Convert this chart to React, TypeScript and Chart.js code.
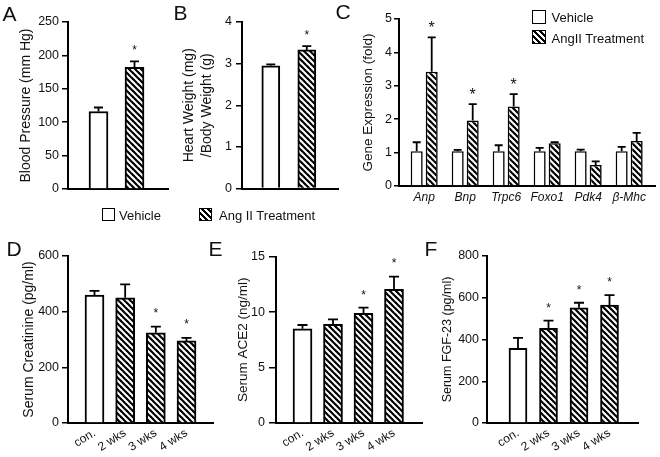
import React, { useEffect, useRef } from 'react';
import { Chart, registerables } from 'chart.js';

Chart.register(...registerables);

const FONT = '"Liberation Sans", Arial, Helvetica, sans-serif';
const INK = '#111111';

// ---------- Panel A: blood pressure ----------
const bpGroups = ['Vehicle', 'Ang II Treatment'];
const bpMean = [116, 182];
const bpSem = [6, 9];
const bpSig = [false, true];
const bpTicks = [0, 50, 100, 150, 200, 250];

// ---------- Panel B: heart weight / body weight ----------
const hwGroups = ['Vehicle', 'Ang II Treatment'];
const hwMean = [2.95, 3.33];
const hwSem = [0.03, 0.09];
const hwSig = [false, true];
const hwTicks = [0, 1, 2, 3, 4];

// ---------- Panel C: gene expression ----------
const genes = ['Anp', 'Bnp', 'Trpc6', 'Foxo1', 'Pdk4', 'β-Mhc'];
const geneVehMean = [1.04, 1.04, 1.04, 1.04, 1.04, 1.04];
const geneVehSem = [0.27, 0.04, 0.18, 0.1, 0.05, 0.13];
const geneAngMean = [3.42, 1.96, 2.38, 1.28, 0.63, 1.35];
const geneAngSem = [1.03, 0.49, 0.37, 0.03, 0.11, 0.24];
const geneAngSig = [true, true, true, false, false, false];
const geneTicks = [0, 1, 2, 3, 4, 5];

// ---------- Panels D, E, F: time course ----------
const timepoints = ['con.', '2 wks', '3 wks', '4 wks'];
const creatMean = [460, 450, 324, 295];
const creatSem = [15, 48, 22, 11];
const creatSig = [false, false, true, true];
const creatTicks = [0, 200, 400, 600];

const ace2Mean = [8.5, 8.9, 9.9, 12.05];
const ace2Sem = [0.34, 0.45, 0.5, 1.15];
const ace2Sig = [false, false, true, true];
const ace2Ticks = [0, 5, 10, 15];

const fgfMean = [358, 453, 552, 565];
const fgfSem = [50, 37, 24, 48];
const fgfSig = [false, true, true, true];
const fgfTicks = [0, 200, 400, 600, 800];

function makeHatch(): CanvasPattern {
  const p = 6;
  const c = document.createElement('canvas');
  c.width = p;
  c.height = p;
  const g = c.getContext('2d')!;
  g.fillStyle = '#fff';
  g.fillRect(0, 0, p, p);
  g.strokeStyle = '#000';
  g.lineWidth = 2.2;
  for (const k of [-p, 0, p]) {
    g.beginPath();
    g.moveTo(-2, -2 + k);
    g.lineTo(p + 2, p + 2 + k);
    g.stroke();
  }
  return g.createPattern(c, 'repeat')!;
}

const errorBarPlugin = {
  id: 'errorBars',
  afterDatasetsDraw(chart: any, _args: any, opts: any) {
    const ctx = chart.ctx;
    const yScale = chart.scales.y;
    chart.data.datasets.forEach((ds: any, di: number) => {
      const meta = chart.getDatasetMeta(di);
      meta.data.forEach((bar: any, i: number) => {
        const mean = ds.data[i].y;
        const err = ds.sem[i];
        const yTop = yScale.getPixelForValue(mean + err);
        const x = bar.x;
        ctx.save();
        ctx.strokeStyle = '#000';
        ctx.lineWidth = opts.lineWidth;
        ctx.beginPath();
        ctx.moveTo(x, bar.y);
        ctx.lineTo(x, yTop);
        ctx.moveTo(x - opts.cap / 2, yTop);
        ctx.lineTo(x + opts.cap / 2, yTop);
        ctx.stroke();
        if (ds.sig && ds.sig[i]) {
          ctx.fillStyle = INK;
          ctx.font = `${opts.starSize}px ${FONT}`;
          ctx.textAlign = 'center';
          ctx.textBaseline = 'alphabetic';
          ctx.fillText('*', x, yTop - opts.starGap + 0.57 * opts.starSize);
        }
        ctx.restore();
      });
    });
  },
};

type Spec = {
  w: number;
  h: number;
  areaLeft: number;
  areaRight: number;
  areaTop: number;
  areaBottom: number;
  xMin: number;
  xMax: number;
  categories: string[];
  showX: boolean;
  rotation: number;
  italic: boolean;
  xPad: number;
  yTicks: number[];
  yTitle: string | string[];
  titleSize: number;
  titleLH: number;
  titlePad: number;
  tickLen: number;
  tickPad: number;
  cap: number;
  starSize: number;
  starGap: number;
  datasets: (hatch: CanvasPattern) => any[];
};

function buildConfig(s: Spec): any {
  const hatch = makeHatch();
  return {
    type: 'bar',
    data: { datasets: s.datasets(hatch) },
    options: {
      animation: false,
      responsive: false,
      maintainAspectRatio: false,
      events: [],
      layout: { padding: { left: 0, top: s.areaTop, right: s.w - s.areaRight, bottom: 0 } },
      plugins: {
        legend: { display: false },
        tooltip: { enabled: false },
        errorBars: { cap: s.cap, lineWidth: 1.8, starSize: s.starSize, starGap: s.starGap },
      },
      scales: {
        x: {
          type: 'linear',
          min: s.xMin,
          max: s.xMax,
          offset: false,
          afterBuildTicks: (sc: any) => {
            sc.ticks = s.categories.map((_, i) => ({ value: i }));
          },
          afterFit: (sc: any) => {
            sc.height = s.h - s.areaBottom;
          },
          grid: { display: false, drawTicks: false, offset: false },
          border: { display: true, color: '#000', width: 2 },
          ticks: {
            display: s.showX,
            autoSkip: false,
            minRotation: s.rotation,
            maxRotation: s.rotation,
            padding: s.xPad,
            color: INK,
            font: { family: FONT, size: 12, style: s.italic ? 'italic' : 'normal' },
            callback: (v: any) => s.categories[v] ?? '',
          },
        },
        y: {
          type: 'linear',
          min: s.yTicks[0],
          max: s.yTicks[s.yTicks.length - 1],
          afterBuildTicks: (sc: any) => {
            sc.ticks = s.yTicks.map((v) => ({ value: v }));
          },
          afterFit: (sc: any) => {
            sc.width = s.areaLeft;
          },
          grid: {
            display: true,
            drawOnChartArea: false,
            drawTicks: true,
            tickLength: s.tickLen,
            color: '#000',
            lineWidth: 1.5,
          },
          border: { display: true, color: '#000', width: 2 },
          ticks: { padding: s.tickPad, color: INK, font: { family: FONT, size: 12.5 } },
          title: {
            display: true,
            text: s.yTitle,
            color: INK,
            font: { family: FONT, size: s.titleSize, lineHeight: s.titleLH },
            padding: { top: s.titlePad, bottom: 0 },
          },
        },
      },
    },
    plugins: [errorBarPlugin],
  };
}

function singleSeries(cats: string[], mean: number[], sem: number[], sig: boolean[], thickness: number) {
  return (hatch: CanvasPattern) => [
    {
      label: 'values',
      data: cats.map((_, i) => ({ x: i, y: mean[i] })),
      sem,
      sig,
      backgroundColor: cats.map((_, i) => (i === 0 ? '#fff' : hatch)),
      borderColor: '#000',
      borderWidth: 2,
      barThickness: thickness,
    },
  ];
}

const specA: Spec = {
  w: 180, h: 200, areaLeft: 68, areaRight: 168, areaTop: 22, areaBottom: 189,
  xMin: -0.847, xMax: 1.93, categories: bpGroups, showX: false, rotation: 0, italic: false, xPad: 4,
  yTicks: bpTicks, yTitle: 'Blood Pressure (mm Hg)', titleSize: 14, titleLH: 1.2, titlePad: 17.6,
  tickLen: 6, tickPad: 3, cap: 9, starSize: 12, starGap: 14,
  datasets: singleSeries(bpGroups, bpMean, bpSem, bpSig, 19),
};

const specB: Spec = {
  w: 170, h: 200, areaLeft: 67, areaRight: 163, areaTop: 22, areaBottom: 189,
  xMin: -0.8, xMax: 1.867, categories: hwGroups, showX: false, rotation: 0, italic: false, xPad: 4,
  yTicks: hwTicks, yTitle: ['Heart Weight (mg)', '/Body Weight (g)'], titleSize: 14, titleLH: 1.286, titlePad: 5.5,
  tickLen: 6, tickPad: 4, cap: 9, starSize: 12, starGap: 14,
  datasets: singleSeries(hwGroups, hwMean, hwSem, hwSig, 18),
};

const specC: Spec = {
  w: 315, h: 215, areaLeft: 54, areaRight: 310, areaTop: 19, areaBottom: 186,
  xMin: -0.615, xMax: 5.63, categories: genes, showX: true, rotation: 0, italic: true, xPad: 4,
  yTicks: geneTicks, yTitle: 'Gene Expression (fold)', titleSize: 13.5, titleLH: 1.2, titlePad: 14.9,
  tickLen: 5, tickPad: 2, cap: 8, starSize: 16, starGap: 13.5,
  datasets: (hatch) => [
    {
      label: 'Vehicle',
      data: genes.map((_, i) => ({ x: i, y: geneVehMean[i] })),
      sem: geneVehSem,
      sig: genes.map(() => false),
      backgroundColor: '#fff',
      borderColor: '#000',
      borderWidth: 1.6,
      categoryPercentage: 0.732,
      barPercentage: 0.8,
    },
    {
      label: 'AngII Treatment',
      data: genes.map((_, i) => ({ x: i, y: geneAngMean[i] })),
      sem: geneAngSem,
      sig: geneAngSig,
      backgroundColor: hatch,
      borderColor: '#000',
      borderWidth: 1.6,
      categoryPercentage: 0.732,
      barPercentage: 0.8,
    },
  ],
};

const specD: Spec = {
  w: 220, h: 227, areaLeft: 68, areaRight: 213, areaTop: 26, areaBottom: 193,
  xMin: -0.864, xMax: 3.864, categories: timepoints, showX: true, rotation: 32, italic: false, xPad: 3,
  yTicks: creatTicks, yTitle: 'Serum Creatinine (pg/ml)', titleSize: 14, titleLH: 1.2, titlePad: 20.6,
  tickLen: 6, tickPad: 3, cap: 10, starSize: 12, starGap: 16.5,
  datasets: singleSeries(timepoints, creatMean, creatSem, creatSig, 19),
};

const specE: Spec = {
  w: 215, h: 227, areaLeft: 61, areaRight: 207, areaTop: 26.7, areaBottom: 193,
  xMin: -0.869, xMax: 3.918, categories: timepoints, showX: true, rotation: 32, italic: false, xPad: 3,
  yTicks: ace2Ticks, yTitle: 'Serum ACE2 (ng/ml)', titleSize: 13.5, titleLH: 1.2, titlePad: 19.9,
  tickLen: 7, tickPad: 4, cap: 10, starSize: 12, starGap: 16,
  datasets: singleSeries(timepoints, ace2Mean, ace2Sem, ace2Sig, 19),
};

const specF: Spec = {
  w: 230, h: 227, areaLeft: 57, areaRight: 208, areaTop: 26, areaBottom: 193,
  xMin: -1.016, xMax: 3.934, categories: timepoints, showX: true, rotation: 32, italic: false, xPad: 3,
  yTicks: fgfTicks, yTitle: 'Serum FGF-23 (pg/ml)', titleSize: 12.5, titleLH: 1.2, titlePad: 10.5,
  tickLen: 5, tickPad: 3, cap: 10, starSize: 12, starGap: 16,
  datasets: singleSeries(timepoints, fgfMean, fgfSem, fgfSig, 18),
};

function Panel({ left, top, spec }: { left: number; top: number; spec: Spec }) {
  const ref = useRef<HTMLCanvasElement>(null);
  useEffect(() => {
    const chart = new Chart(ref.current!, buildConfig(spec));
    return () => chart.destroy();
  }, []);
  return (
    <canvas
      ref={ref}
      width={spec.w}
      height={spec.h}
      style={{ position: 'absolute', left, top, width: spec.w, height: spec.h }}
    />
  );
}

function Label({ x, baseline, size, text }: { x: number; baseline: number; size: number; text: string }) {
  return (
    <div
      style={{
        position: 'absolute',
        left: x,
        top: baseline - 0.8465 * size,
        fontFamily: FONT,
        fontSize: size,
        lineHeight: 1,
        whiteSpace: 'nowrap',
        color: INK,
      }}
    >
      {text}
    </div>
  );
}

const hatchCss = 'repeating-linear-gradient(45deg, #000 0px, #000 1.6px, #fff 1.6px, #fff 4.24px)';

function Swatch({ x, y, size, hatched }: { x: number; y: number; size: number; hatched: boolean }) {
  return (
    <div
      style={{
        position: 'absolute',
        left: x,
        top: y,
        width: size,
        height: size,
        boxSizing: 'border-box',
        border: '1.6px solid #000',
        background: hatched ? hatchCss : '#fff',
      }}
    />
  );
}

export default function App() {
  return (
    <div
      style={{
        position: 'absolute',
        left: 0,
        top: 0,
        width: 660,
        height: 457,
        background: '#fff',
        overflow: 'hidden',
      }}
    >
      <Panel left={0} top={0} spec={specA} />
      <Panel left={175} top={0} spec={specB} />
      <Panel left={345} top={0} spec={specC} />
      <Panel left={0} top={230} spec={specD} />
      <Panel left={215} top={230} spec={specE} />
      <Panel left={430} top={230} spec={specF} />

      <Label x={2.5} baseline={20.5} size={21} text="A" />
      <Label x={173.5} baseline={19.5} size={21} text="B" />
      <Label x={335.5} baseline={19} size={21} text="C" />
      <Label x={6.5} baseline={255.5} size={21} text="D" />
      <Label x={208.5} baseline={256} size={21} text="E" />
      <Label x={424.5} baseline={256} size={21} text="F" />

      <Swatch x={102} y={208} size={13} hatched={false} />
      <Label x={119} baseline={220} size={13} text={bpGroups[0]} />
      <Swatch x={198.5} y={208} size={13} hatched={true} />
      <Label x={219} baseline={220} size={13} text={bpGroups[1]} />

      <Swatch x={532} y={10} size={14} hatched={false} />
      <Label x={551.5} baseline={21.7} size={13} text="Vehicle" />
      <Swatch x={532} y={30} size={14} hatched={true} />
      <Label x={551.5} baseline={43.3} size={13} text="AngII Treatment" />
    </div>
  );
}
